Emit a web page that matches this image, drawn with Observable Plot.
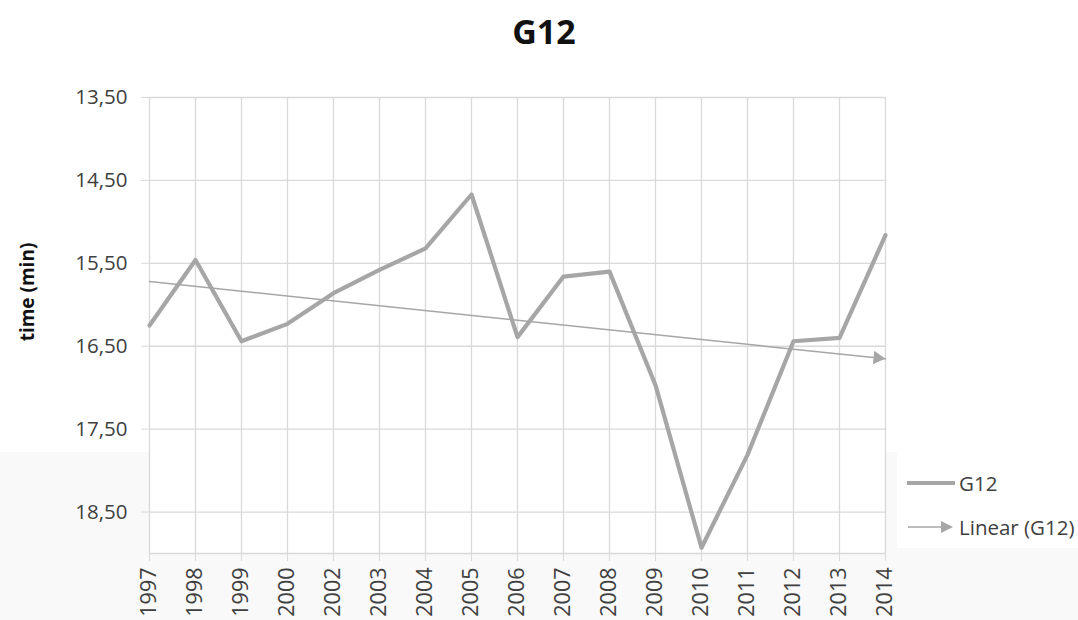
<!DOCTYPE html>
<html>
<head>
<meta charset="utf-8">
<script src="https://cdn.jsdelivr.net/npm/d3@7"></script>
<script src="https://cdn.jsdelivr.net/npm/@observablehq/plot@0.6"></script>
<style>
  html, body { margin: 0; padding: 0; }
  body {
    width: 1078px; height: 620px; overflow: hidden; position: relative;
    font-family: "Open Sans", "Liberation Sans", sans-serif;
    background: linear-gradient(to bottom, #ffffff 0px, #ffffff 452px, #f9f9f9 452px);
  }
  #title {
    height: 60px; line-height: 62px; text-align: center; padding-left: 10px;
    font-size: 34px; font-weight: bold; color: #111;
  }
  #ylabel {
    position: absolute; left: 27px; top: 292px;
    transform: translate(-50%, -50%) rotate(-90deg);
    font-size: 19px; font-weight: bold; color: #111; white-space: nowrap;
  }
  #legend {
    position: absolute; left: 897px; top: 452px; width: 181px; height: 96px;
    background: #ffffff; font-size: 20.5px; color: #404040;
  }
  .item { position: absolute; left: 6px; display: flex; align-items: center; white-space: nowrap; }
  .item svg { margin-right: 4px; }
</style>
</head>
<body>
<div id="title">G12</div>
<div id="chart"></div>
<div id="ylabel">time (min)</div>
<div id="legend">
  <div class="item" style="top:17px">
    <svg width="52" height="10"><line x1="4" y1="5" x2="52" y2="5" stroke="#a6a6a6" stroke-width="4"/></svg>G12
  </div>
  <div class="item" style="top:61px">
    <svg width="52" height="14"><line x1="5" y1="7" x2="40" y2="7" stroke="#a6a6a6" stroke-width="1.5"/><path d="M38,1 L50,7 L38,13 Z" fill="#a6a6a6"/></svg>Linear (G12)
  </div>
</div>
<script>
const years = ["1997","1998","1999","2000","2002","2003","2004","2005","2006","2007","2008","2009","2010","2011","2012","2013","2014"];
const times = [16.25, 15.46, 16.44, 16.23, 15.86, 15.58, 15.32, 14.67, 16.39, 15.66, 15.60, 16.97, 18.93, 17.81, 16.44, 16.40, 15.16];
const yTicks = [13.5, 14.5, 15.5, 16.5, 17.5, 18.5];
const yDomain = [13.5, 19.0];

const data = years.map((year, i) => ({year, time: times[i]}));

// Linear trendline (least squares over category index), as Excel does
const n = times.length;
const mx = d3.mean(d3.range(n));
const my = d3.mean(times);
const slope = d3.sum(times, (v, i) => (i - mx) * (v - my)) / d3.sum(d3.range(n), i => (i - mx) ** 2);
const intercept = my - slope * mx;
const trend = [
  {year: years[0], t: intercept},
  {year: years[n - 1], t: intercept + slope * (n - 1)}
];

const fmt = d => d.toFixed(2).replace(".", ",");

const chart = Plot.plot({
  width: 1078,
  height: 560,
  marginTop: 37,
  marginBottom: 67,
  marginLeft: 149,
  marginRight: 193,
  style: {background: "transparent", fontFamily: "'Open Sans', 'Liberation Sans', sans-serif"},
  x: {type: "point", domain: years, padding: 0},
  y: {domain: yDomain, reverse: true},
  marks: [
    Plot.frame({fill: "white", stroke: "none"}),
    Plot.gridY(yTicks, {stroke: "#d9d9d9", strokeOpacity: 1, strokeWidth: 1.3}),
    Plot.gridX(years, {stroke: "#d9d9d9", strokeOpacity: 1, strokeWidth: 1.3}),
    Plot.ruleY([yDomain[1]], {stroke: "#d9d9d9", strokeWidth: 1.5}),
    Plot.axisY(yTicks, {tickSize: 8, tickPadding: 14, tickFormat: fmt, fontSize: 20.5, color: "#404040", stroke: "#d9d9d9", label: null}),
    Plot.axisX({tickRotate: -90, tickSize: 8, tickPadding: 6, fontSize: 21.5, color: "#404040", stroke: "#d9d9d9", label: null}),
    Plot.line(trend, {x: "year", y: "t", stroke: "#a6a6a6", strokeWidth: 1.5}),
    Plot.dot([trend[1]], {x: "year", y: "t", symbol: "triangle", r: 5, fill: "#a6a6a6", stroke: "none", rotate: 96, dx: -8, dy: -1}),
    Plot.line(data, {x: "year", y: "time", stroke: "#a6a6a6", strokeWidth: 4.2})
  ]
});
document.getElementById("chart").appendChild(chart);
</script>
</body>
</html>
